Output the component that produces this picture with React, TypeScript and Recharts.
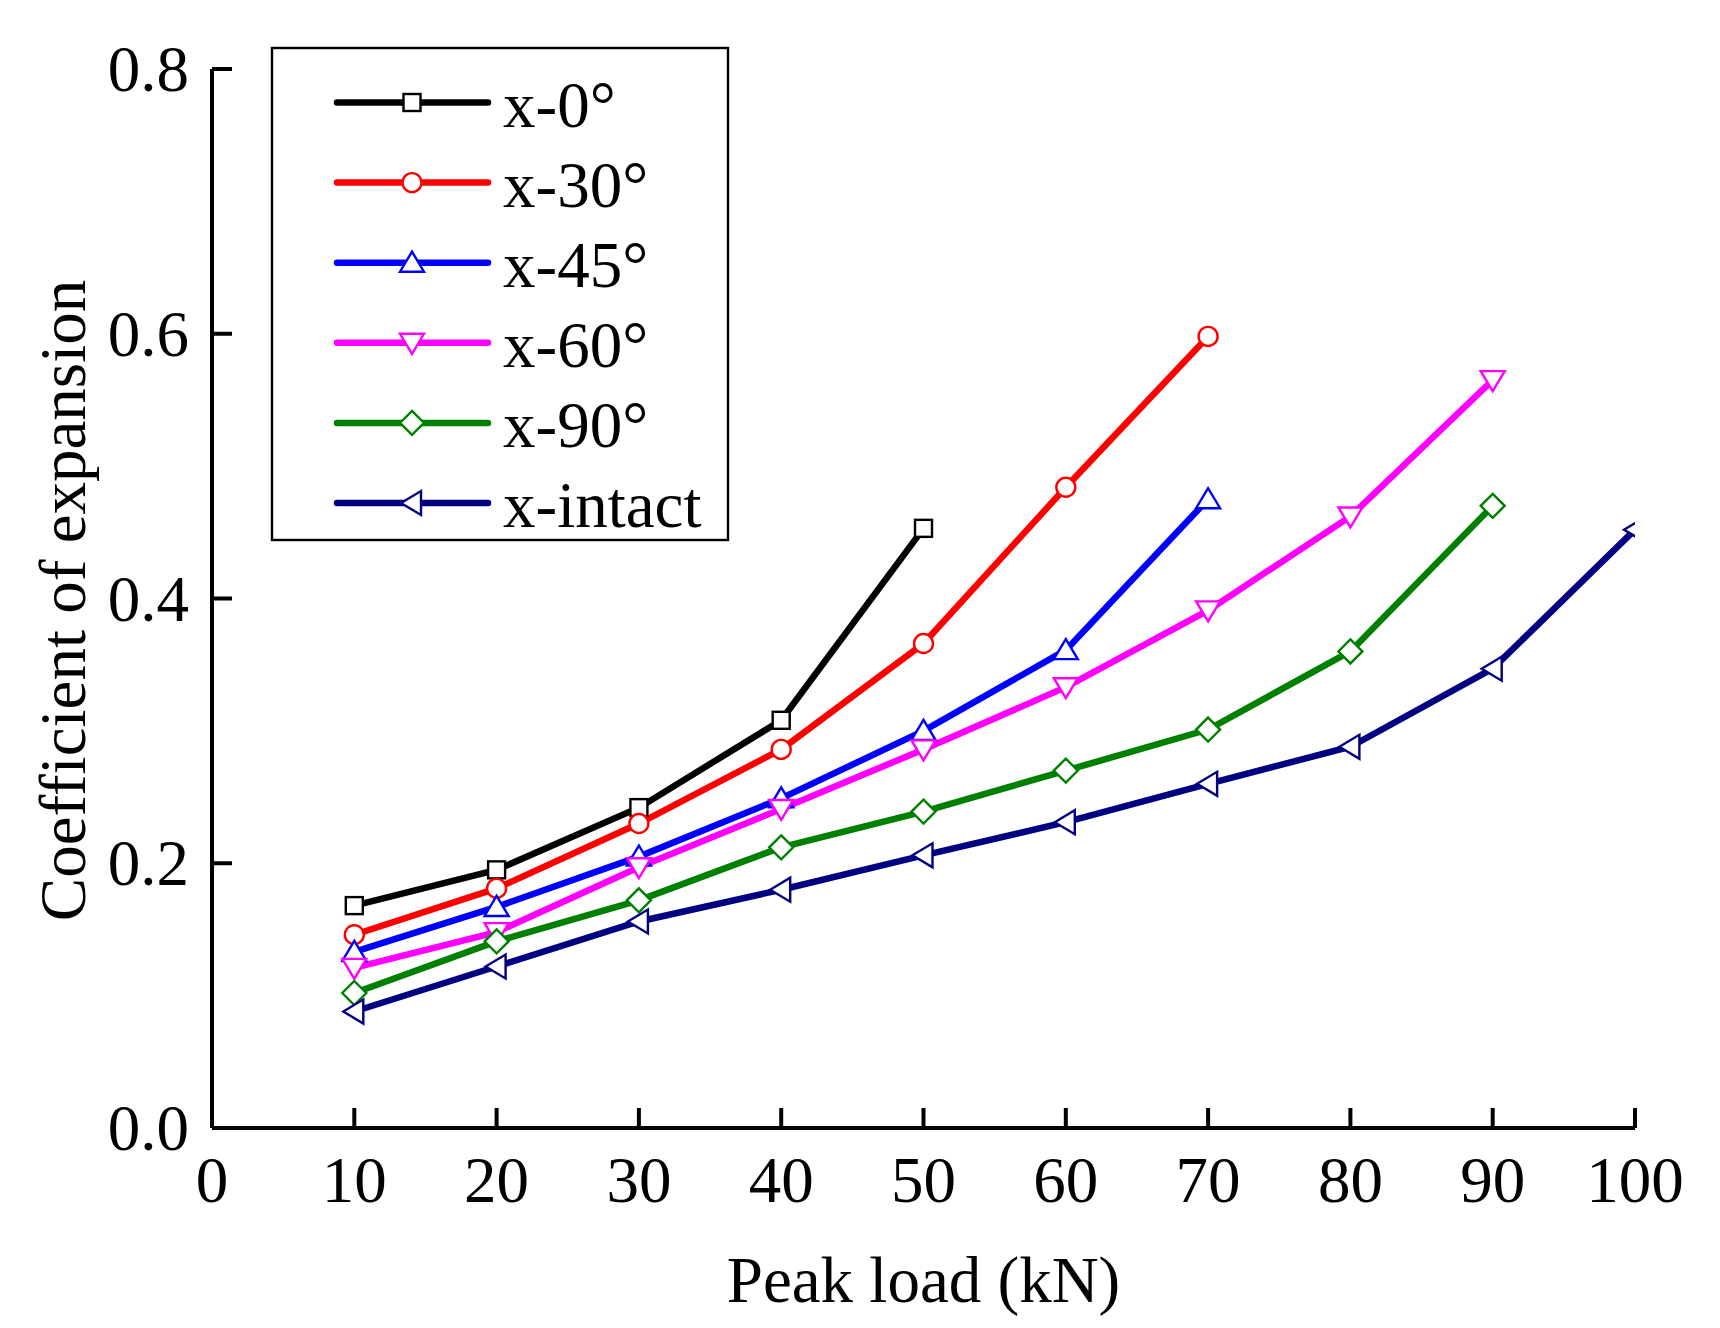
import React from 'react';
import { LineChart, Line, XAxis, YAxis, Customized } from 'recharts';

// peak load (kN)
const loads = [10, 20, 30, 40, 50, 60, 70, 80, 90, 100];

// coefficient of expansion per specimen
const x0 = [0.168, 0.195, 0.242, 0.308, 0.453];
const x30 = [0.146, 0.181, 0.230, 0.286, 0.366, 0.484, 0.598];
const x45 = [0.133, 0.167, 0.205, 0.249, 0.300, 0.361, 0.475];
const x60 = [0.121, 0.148, 0.197, 0.241, 0.286, 0.333, 0.391, 0.462, 0.565];
const x90 = [0.102, 0.141, 0.172, 0.212, 0.239, 0.270, 0.301, 0.360, 0.470];
const xIntact = [0.088, 0.122, 0.156, 0.180, 0.206, 0.231, 0.260, 0.288, 0.347, 0.452];

const xTicks = [0, 10, 20, 30, 40, 50, 60, 70, 80, 90, 100];
const yTicks = [0, 0.2, 0.4, 0.6, 0.8];

const series = [
    { key: 'x0', name: 'x-0°', color: '#000000', shape: 'square', values: x0 },
    { key: 'x30', name: 'x-30°', color: '#ff0000', shape: 'circle', values: x30 },
    { key: 'x45', name: 'x-45°', color: '#0000ff', shape: 'up', values: x45 },
    { key: 'x60', name: 'x-60°', color: '#ff00ff', shape: 'down', values: x60 },
    { key: 'x90', name: 'x-90°', color: '#008000', shape: 'diamond', values: x90 },
    { key: 'xIntact', name: 'x-intact', color: '#000080', shape: 'left', values: xIntact },
];

const data = loads.map((load, i) => {
    const row: Record<string, number> = { load };
    series.forEach(s => {
        if (i < s.values.length) row[s.key] = s.values[i];
    });
    return row;
});

const FONT = '"Liberation Serif", "Times New Roman", serif';
const FS = 65;
const LW = 6.5;

function Marker({ shape, cx, cy, color }: { shape: string; cx: number; cy: number; color: string }) {
    const common = { fill: '#ffffff', stroke: color, strokeWidth: 2.4 };
    switch (shape) {
        case 'square':
            return <rect x={cx - 8.5} y={cy - 8.5} width={17} height={17} {...common} />;
        case 'circle':
            return <circle cx={cx} cy={cy} r={9.5} {...common} />;
        case 'up':
            return <polygon points={`${cx},${cy - 11} ${cx - 12},${cy + 9} ${cx + 12},${cy + 9}`} {...common} />;
        case 'down':
            return <polygon points={`${cx},${cy + 11} ${cx - 12},${cy - 9} ${cx + 12},${cy - 9}`} {...common} />;
        case 'diamond':
            return <polygon points={`${cx},${cy - 12} ${cx + 12},${cy} ${cx},${cy + 12} ${cx - 12},${cy}`} {...common} />;
        default:
            return <polygon points={`${cx - 11},${cy} ${cx + 9},${cy - 12} ${cx + 9},${cy + 12}`} {...common} />;
    }
}

const YTick = ({ x, y, payload }: any) => (
    <g>
        <line x1={x} x2={x + 20} y1={y} y2={y} stroke="#000" strokeWidth={4} />
        <text x={x - 23} y={y + 22} textAnchor="end" fontSize={FS} fontFamily={FONT} fill="#000">
            {Number(payload.value).toFixed(1)}
        </text>
    </g>
);

const XTick = ({ x, y, payload }: any) => (
    <g>
        <line x1={x} x2={x} y1={y} y2={y - 20} stroke="#000" strokeWidth={4} />
        <text x={x} y={y + 74} textAnchor="middle" fontSize={FS} fontFamily={FONT} fill="#000">
            {payload.value}
        </text>
    </g>
);

const LegendBox = () => {
    const top = 102.5;
    const step = 80.1;
    return (
        <g>
            <rect x={272} y={48} width={456} height={492} fill="#fff" stroke="#000" strokeWidth={2.4} />
            {series.map((s, i) => {
                const y = top + i * step;
                return (
                    <g key={s.key}>
                        <line x1={337} x2={488} y1={y} y2={y} stroke={s.color} strokeWidth={LW} strokeLinecap="round" />
                        <Marker shape={s.shape} cx={412} cy={y} color={s.color} />
                        <text x={503} y={y + 24} fontSize={FS} fontFamily={FONT} fill="#000">{s.name}</text>
                    </g>
                );
            })}
        </g>
    );
};

export default function App() {
    return (
        <div style={{ position: 'absolute', left: 0, top: 0, background: '#fff' }}>
            <LineChart
                width={1720}
                height={1328}
                data={data}
                margin={{ top: 69, right: 85, bottom: 140, left: 152 }}
            >
                <XAxis
                    dataKey="load"
                    type="number"
                    domain={[0, 100]}
                    ticks={xTicks}
                    allowDataOverflow
                    height={60}
                    tickSize={0}
                    tickMargin={0}
                    tickLine={false}
                    axisLine={{ stroke: '#000', strokeWidth: 4 }}
                    tick={<XTick />}
                    label={{
                        content: ({ viewBox }: any) => (
                            <text
                                x={viewBox.x + viewBox.width / 2}
                                y={viewBox.y + 174}
                                textAnchor="middle"
                                fontSize={FS}
                                fontFamily={FONT}
                                fill="#000"
                            >
                                Peak load (kN)
                            </text>
                        ),
                    }}
                />
                <YAxis
                    type="number"
                    domain={[0, 0.8]}
                    ticks={yTicks}
                    width={60}
                    tickSize={0}
                    tickMargin={0}
                    tickLine={false}
                    axisLine={{ stroke: '#000', strokeWidth: 4 }}
                    tick={<YTick />}
                    label={{
                        content: ({ viewBox }: any) => {
                            const cy = viewBox.y + viewBox.height / 2 + 2;
                            return (
                                <text
                                    x={85}
                                    y={cy}
                                    transform={`rotate(-90, 85, ${cy})`}
                                    textAnchor="middle"
                                    fontSize={FS}
                                    fontFamily={FONT}
                                    fill="#000"
                                >
                                    Coefficient of expansion
                                </text>
                            );
                        },
                    }}
                />
                {series.map(s => (
                    <Line
                        key={s.key}
                        dataKey={s.key}
                        name={s.name}
                        stroke={s.color}
                        strokeWidth={LW}
                        isAnimationActive={false}
                        activeDot={false}
                        dot={(p: any) =>
                            p.cx == null || p.cy == null ? (
                                <g key={`${s.key}-${p.index}`} />
                            ) : (
                                <Marker key={`${s.key}-${p.index}`} shape={s.shape} cx={p.cx} cy={p.cy} color={s.color} />
                            )
                        }
                    />
                ))}
                <Customized component={LegendBox} />
            </LineChart>
        </div>
    );
}
